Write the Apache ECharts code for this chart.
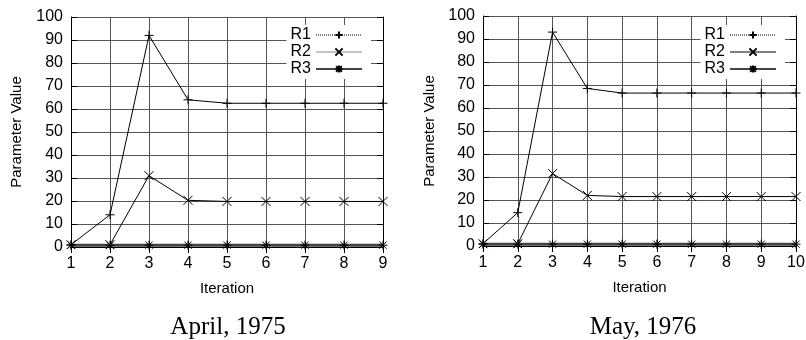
<!DOCTYPE html>
<html>
<head>
<meta charset="utf-8">
<script src="https://cdn.jsdelivr.net/npm/echarts@6/dist/echarts.min.js"></script>
<style>
  body { margin: 0; background: #fff; }
  .chart { position: absolute; top: 0; height: 340px; }
</style>
</head>
<body>
<div id="c1" class="chart" style="left:0;width:403px"></div>
<div id="c2" class="chart" style="left:403px;width:403px"></div>
<script>
// April, 1975
const iterations1975 = [1, 2, 3, 4, 5, 6, 7, 8, 9];
const r1_1975 = [1, 14, 92, 64, 62.5, 62.5, 62.5, 62.5, 62.5];
const r2_1975 = [1, 1, 31, 20.3, 19.8, 19.8, 19.8, 19.8, 19.8];
const r3_1975 = [0.8, 0.8, 0.8, 0.8, 0.8, 0.8, 0.8, 0.8, 0.8];

// May, 1976
const iterations1976 = [1, 2, 3, 4, 5, 6, 7, 8, 9, 10];
const r1_1976 = [1, 14.5, 93, 68.5, 66.5, 66.5, 66.5, 66.5, 66.5, 66.5];
const r2_1976 = [1, 1, 31.5, 22, 21.5, 21.5, 21.5, 21.5, 21.5, 21.5];
const r3_1976 = [0.8, 0.8, 0.8, 0.8, 0.8, 0.8, 0.8, 0.8, 0.8, 0.8];

const yTicks = [0, 100, 10];

const PLUS = "path://M0,5L10,5M5,0L5,10";
const CROSS = "path://M0,0L10,10M0,10L10,0";
const STAR = "path://M0,5L10,5M5,0L5,10M1,1L9,9M1,9L9,1";

const sans = "Liberation Sans, Arial, sans-serif";

const pair = (xs, ys) => xs.map((x, i) => [x, ys[i]]);

function lineSeries(name, data, symbol, color, width) {
  return {
    name,
    type: "line",
    data,
    symbol,
    symbolSize: 9,
    showSymbol: true,
    lineStyle: { color, width },
    itemStyle: { color: "none", borderColor: "#000", borderWidth: 1 },
    emphasis: { disabled: true },
    animation: false,
  };
}

function chartOptions({ title, xs, r1, r2, r3, grid, legendRight, titleX, nameGap, r2Color }) {
  const xMax = xs[xs.length - 1];
  const tickStyle = { show: true, inside: true, length: 6, lineStyle: { color: "#000", width: 1 } };
  return {
    animation: false,
    title: {
      text: title,
      left: titleX,
      textAlign: "center",
      top: 310,
      textStyle: { fontFamily: "Liberation Serif, DejaVu Serif, serif", fontWeight: "normal", fontSize: 25, color: "#000" },
    },
    grid: { left: grid[0], right: grid[1], top: grid[2], bottom: grid[3], outerBoundsMode: "none" },
    legend: {
      right: legendRight,
      top: 25,
      orient: "vertical",
      align: "right",
      itemWidth: 46,
      itemHeight: 9,
      itemGap: 1,
      backgroundColor: "#fff",
      padding: [2, 8, 2, 4],
      textStyle: { fontFamily: sans, fontSize: 16, lineHeight: 16, color: "#000" },
      data: [
        { name: "R1", lineStyle: { width: 1, type: [1, 1] } },
        { name: "R2", lineStyle: { width: 1, color: r2Color } },
        { name: "R3", lineStyle: { width: 2 } },
      ],
    },
    xAxis: [
      {
        type: "value",
        min: 1,
        max: xMax,
        interval: 1,
        name: "Iteration",
        nameLocation: "middle",
        nameGap: 34,
        nameTextStyle: { fontFamily: sans, fontSize: 15, color: "#000" },
        axisLine: { show: true, lineStyle: { color: "#000", width: 1 } },
        axisTick: tickStyle,
        axisLabel: { fontFamily: sans, fontSize: 16, color: "#000", margin: 9 },
        splitLine: { show: true, lineStyle: { color: "#555", width: 1 } },
      },
      {
        type: "value",
        position: "top",
        min: 1,
        max: xMax,
        interval: 1,
        axisLine: { show: true, lineStyle: { color: "#000", width: 1 } },
        axisTick: tickStyle,
        axisLabel: { show: false },
        splitLine: { show: false },
      },
    ],
    yAxis: [
      {
        type: "value",
        min: yTicks[0],
        max: yTicks[1],
        interval: yTicks[2],
        name: "Parameter Value",
        nameLocation: "middle",
        nameGap: nameGap,
        nameTextStyle: { fontFamily: sans, fontSize: 15, color: "#000" },
        axisLine: { show: true, lineStyle: { color: "#000", width: 1 } },
        axisTick: tickStyle,
        axisLabel: { fontFamily: sans, fontSize: 16, color: "#000", margin: 8 },
        splitLine: { show: true, lineStyle: { color: "#555", width: 1 } },
      },
      {
        type: "value",
        position: "right",
        min: yTicks[0],
        max: yTicks[1],
        interval: yTicks[2],
        axisLine: { show: true, lineStyle: { color: "#000", width: 1 } },
        axisTick: tickStyle,
        axisLabel: { show: false },
        splitLine: { show: false },
      },
    ],
    series: [
      lineSeries("R1", pair(xs, r1), PLUS, "#000", 1),
      lineSeries("R2", pair(xs, r2), CROSS, "#000", 1),
      lineSeries("R3", pair(xs, r3), STAR, "#444", 3),
    ],
  };
}

const c1 = echarts.init(document.getElementById("c1"));
c1.setOption(chartOptions({
  title: "April, 1975",
  xs: iterations1975, r1: r1_1975, r2: r2_1975, r3: r3_1975,
  grid: [71, 20, 17, 93],
  legendRight: 32,
  titleX: 223,
  nameGap: 47,
  r2Color: "#888",
}));

const c2 = echarts.init(document.getElementById("c2"));
c2.setOption(chartOptions({
  title: "May, 1976",
  xs: iterations1976, r1: r1_1976, r2: r2_1976, r3: r3_1976,
  grid: [80, 10, 16, 94],
  legendRight: 21,
  titleX: 235,
  nameGap: 44,
  r2Color: "#000",
}));
</script>
</body>
</html>
